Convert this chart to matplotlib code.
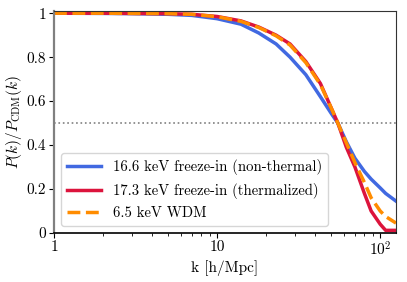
import matplotlib
matplotlib.use("Agg")
import matplotlib.pyplot as plt

plt.rcParams["font.family"] = "serif"
plt.rcParams["font.serif"] = ["cmr10"]
plt.rcParams["mathtext.fontset"] = "cm"
plt.rcParams["axes.formatter.use_mathtext"] = True
plt.rcParams["font.size"] = 11

k = [1, 2, 3, 5, 7, 10, 14, 18, 23, 28, 35, 43, 50, 55, 62, 70, 80, 88, 100, 108, 125]

nonthermal = [1.0, 0.999, 0.998, 0.995, 0.99, 0.975, 0.95, 0.91, 0.86, 0.80, 0.72,
              0.62, 0.545, 0.50, 0.415, 0.34, 0.28, 0.245, 0.205, 0.18, 0.145]
thermalized = [1.0, 1.0, 0.999, 0.998, 0.995, 0.985, 0.965, 0.937, 0.90, 0.86, 0.78,
               0.68, 0.57, 0.50, 0.39, 0.30, 0.18, 0.10, 0.04, 0.012, 0.012]
wdm = [1.0, 1.0, 0.999, 0.998, 0.995, 0.984, 0.963, 0.935, 0.897, 0.855, 0.775,
       0.675, 0.57, 0.50, 0.41, 0.32, 0.23, 0.16, 0.10, 0.075, 0.045]

labels = [
    "16.6 keV freeze-in (non-thermal)",
    "17.3 keV freeze-in (thermalized)",
    "6.5 keV WDM",
]

fig = plt.figure(figsize=(4.07, 2.82), dpi=100)
ax = fig.add_axes([0.1327, 0.1738, 0.8403, 0.7872])

ax.axhline(0.5, color="gray", linestyle=":", linewidth=1.2)

ax.plot(k, nonthermal, color="royalblue", linewidth=2.5, label=labels[0])
ax.plot(k, thermalized, color="crimson", linewidth=2.5, label=labels[1])
ax.plot(k, wdm, color="darkorange", linewidth=2.5, linestyle="--", label=labels[2])

ax.set_xscale("log")
ax.set_xlim(1, 125)
ax.set_ylim(0, 1.01)

ax.set_xticks([1, 10, 100])
ax.set_xticklabels(["1", "10", "$10^2$"])
ax.set_yticks([0, 0.2, 0.4, 0.6, 0.8, 1.0])
ax.set_yticklabels(["0", "0.2", "0.4", "0.6", "0.8", "1"])
ax.tick_params(axis="both", which="major", pad=2)

ax.set_xlabel("k [h/Mpc]", labelpad=1)
ax.set_ylabel(r"$P(k)/P_{\rm CDM}(k)$", labelpad=2)

ax.spines["left"].set_color("gray")
ax.spines["left"].set_linewidth(1.6)
ax.spines["bottom"].set_color("black")
ax.spines["bottom"].set_linewidth(1.2)
ax.spines["top"].set_color("#333333")
ax.spines["right"].set_color("#333333")

ax.legend(loc="lower left", fontsize=10.6, handlelength=2.3)

fig.savefig("out.png", dpi=100)
